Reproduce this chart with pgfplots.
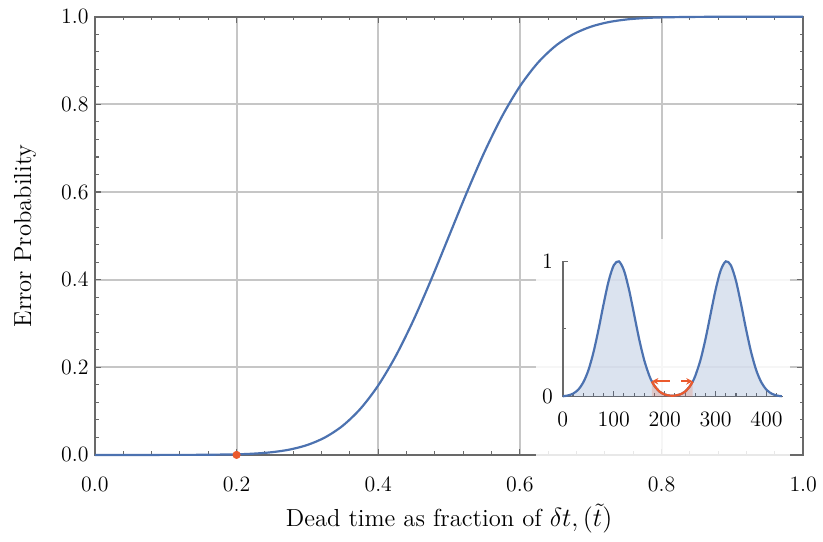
\documentclass[border=0pt]{standalone}
\usepackage{pgfplots}
\pgfplotsset{compat=1.18}
\usetikzlibrary{arrows.meta}

\definecolor{mblue}{RGB}{76,114,176}
\definecolor{morange}{RGB}{235,90,45}
\definecolor{axgray}{RGB}{105,105,105}
\definecolor{gridgray}{RGB}{198,198,198}

% error probability vs dead time
\pgfplotstableread{
t      p
0.000  0.00000
0.100  0.00003
0.150  0.00023
0.200  0.00135
0.225  0.00298
0.250  0.00621
0.275  0.01222
0.300  0.02275
0.325  0.04006
0.350  0.06681
0.375  0.10565
0.400  0.15866
0.425  0.22663
0.450  0.30854
0.475  0.40129
0.500  0.50000
0.525  0.59871
0.550  0.69146
0.575  0.77337
0.600  0.84134
0.625  0.89435
0.650  0.93319
0.675  0.95994
0.700  0.97725
0.725  0.98778
0.750  0.99379
0.775  0.99702
0.800  0.99865
0.850  0.99977
0.900  0.99997
1.000  1.00000
}\errprob

% inset: two pulses
\pgfplotstableread{
x    y
0    0.0034
10   0.0092
20   0.0228
30   0.0513
40   0.1046
50   0.1930
60   0.3250
70   0.4940
80   0.6820
90   0.8540
100  0.9690
110  0.9980
120  0.9320
130  0.7890
140  0.6070
150  0.4230
160  0.2670
170  0.1530
175  0.1117
180  0.0796
190  0.0375
200  0.0167
210  0.0084
215  0.0075
220  0.0084
230  0.0167
240  0.0375
250  0.0796
255  0.1117
260  0.1530
270  0.2670
280  0.4230
290  0.6070
300  0.7890
310  0.9320
320  0.9980
330  0.9690
340  0.8540
350  0.6820
360  0.4940
370  0.3250
380  0.1930
390  0.1046
400  0.0513
410  0.0228
420  0.0092
430  0.0034
}\pulses

\pgfplotstableread{
x    y
175  0.1117
180  0.0796
190  0.0375
200  0.0167
210  0.0084
215  0.0075
220  0.0084
230  0.0167
240  0.0375
250  0.0796
255  0.1117
}\gap

\begin{document}
\begin{tikzpicture}
\begin{axis}[
    name=main,
    scale only axis,
    width=388pt, height=240pt,
    xmin=0, xmax=1, ymin=0, ymax=1,
    xtick={0,0.2,...,1}, ytick={0,0.2,...,1},
    minor tick num=4,
    tick align=inside,
    major tick length=3.2pt, minor tick length=2pt,
    every tick/.style={axgray, line width=0.6pt},
    axis line style={axgray, line width=0.8pt},
    grid=major,
    major grid style={gridgray, line width=1.1pt},
    /pgf/number format/fixed,
    /pgf/number format/fixed zerofill,
    /pgf/number format/precision=1,
    tick label style={font=\fontsize{12}{14}\selectfont},
    xticklabel style={yshift=-9pt},
    every axis x label/.style={at={(axis description cs:0.5,-0.146)}, anchor=center,
        font=\fontsize{13.5}{16}\selectfont},
    every axis y label/.style={at={(axis description cs:-0.0987,0.5)}, rotate=90, anchor=center,
        font=\fontsize{13.5}{16}\selectfont},
    xlabel={Dead time as fraction of $\delta t, (\tilde{t})$},
    ylabel={Error Probability},
    clip=false,
]
\addplot[mblue, line width=1.2pt, smooth] table[x=t, y=p] {\errprob};
\addplot[only marks, mark=*, mark size=2pt, color=morange] coordinates {(0.2,0)};
\coordinate (boxbl) at (rel axis cs:0.6225,-0.012);
\coordinate (boxtr) at (rel axis cs:0.9817,0.492);
\coordinate (insetorigin) at (rel axis cs:0.6606,0.1328);
\end{axis}

% page frame in the reference's proportions
\path (main.south west) ++(-52pt,-47.5pt) rectangle ++(449.7pt,296.7pt);

\fill[white, fill opacity=0.85] (boxbl) rectangle (boxtr);

\begin{axis}[
    at={(insetorigin)}, anchor=south west,
    scale only axis,
    width=120.8pt, height=74.3pt,
    xmin=0, xmax=433, ymin=0, ymax=1,
    axis lines=left,
    axis line style={-, axgray, line width=0.8pt},
    xtick={0,100,...,400}, ytick={0,1},
    minor xtick={20,40,60,80,120,140,160,180,220,240,260,280,320,340,360,380,420},
    minor ytick={0.5},
    tick align=inside,
    major tick length=3pt, minor tick length=1.8pt,
    every tick/.style={axgray, line width=0.6pt},
    tick label style={font=\fontsize{12}{14}\selectfont},
    xticklabel style={yshift=-5pt},
    yticklabel style={xshift=-2pt},
    clip=false,
]
\addplot[fill=mblue, fill opacity=0.2, draw=none] table[x=x, y=y] {\pulses} \closedcycle;
\addplot[fill=morange, fill opacity=0.2, draw=none] table[x=x, y=y] {\gap} \closedcycle;
\addplot[mblue, line width=1.2pt, smooth] table[x=x, y=y] {\pulses};
\addplot[morange, line width=1.2pt, smooth] table[x=x, y=y] {\gap};
\addplot[morange, line width=1pt, dash pattern=on 8pt off 6pt,
    {Stealth[length=3.5pt,width=3.5pt]}-{Stealth[length=3.5pt,width=3.5pt]}]
    coordinates {(175,0.114) (255,0.114)};
\end{axis}
\end{tikzpicture}
\end{document}
